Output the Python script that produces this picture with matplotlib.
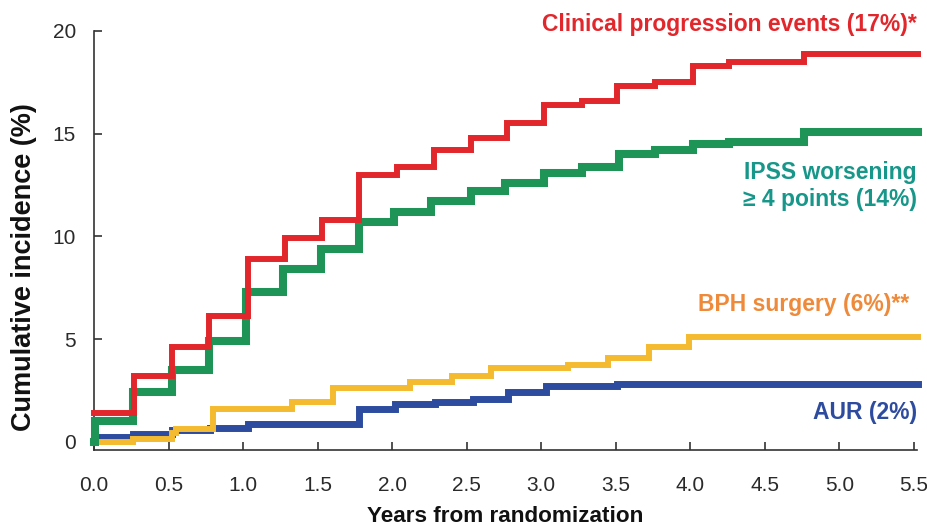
import matplotlib
matplotlib.use("Agg")
import matplotlib.pyplot as plt

# ---- data ----
clin_t = [0, 0.27, 0.52, 0.77, 1.03, 1.28, 1.53, 1.78, 2.03, 2.28, 2.53, 2.77,
          3.02, 3.27, 3.51, 3.76, 4.02, 4.26, 4.76, 5.53]
clin_v = [1.4, 3.2, 4.6, 6.1, 8.9, 9.9, 10.8, 13.0, 13.4, 14.2, 14.8, 15.5,
          16.4, 16.6, 17.3, 17.5, 18.3, 18.5, 18.9, 18.9]

ipss_t = [0, 0.01, 0.26, 0.52, 0.77, 1.02, 1.27, 1.52, 1.78, 2.01, 2.26, 2.53,
          2.76, 3.02, 3.27, 3.52, 3.76, 4.02, 4.26, 4.76, 5.53]
ipss_v = [0, 1.0, 2.4, 3.5, 4.9, 7.3, 8.4, 9.4, 10.7, 11.2, 11.7, 12.2,
          12.6, 13.1, 13.4, 14.0, 14.2, 14.5, 14.6, 15.1, 15.1]

bph_t = [0, 0.26, 0.52, 0.55, 0.8, 1.33, 1.6, 2.12, 2.4, 2.66, 3.18, 3.45,
         3.72, 3.99, 5.53]
bph_v = [0, 0.15, 0.45, 0.6, 1.6, 1.95, 2.6, 2.9, 3.2, 3.6, 3.75, 4.1,
         4.6, 5.1, 5.1]

aur_t = [0, 0.26, 0.52, 0.78, 1.03, 1.78, 2.02, 2.29, 2.54, 2.78, 3.03, 3.51, 5.53]
aur_v = [0.25, 0.4, 0.55, 0.65, 0.85, 1.6, 1.85, 1.95, 2.1, 2.4, 2.7, 2.8, 2.8]

x_ticks = [0.0, 0.5, 1.0, 1.5, 2.0, 2.5, 3.0, 3.5, 4.0, 4.5, 5.0, 5.5]
x_ticklabels = ["0.0", "0.5", "1.0", "1.5", "2.0", "2.5", "3.0", "3.5",
                "4.0", "4.5", "5.0", "5.5"]
y_ticks = [0, 5, 10, 15, 20]
y_ticklabels = ["0", "5", "10", "15", "20"]

# ---- styling ----
plt.rcParams['font.family'] = ['Liberation Sans', 'DejaVu Sans']

RED = "#E2272C"
GREEN = "#1E9457"
YELLOW = "#F4BA30"
BLUE = "#2D4C9F"
TEAL = "#17968A"
ORANGE = "#EE8A3A"
AXC = "#333333"

fig = plt.figure(figsize=(9.28, 5.26), dpi=100)
ax = fig.add_axes([94 / 928, 1 - 450 / 526, (917 - 94) / 928, (450 - 31) / 526])

ax.step(aur_t, aur_v, where='post', color=BLUE, lw=5.0, solid_joinstyle='miter', clip_on=False, zorder=3)
ax.step(bph_t, bph_v, where='post', color=YELLOW, lw=4.3, solid_joinstyle='miter', clip_on=False, zorder=4)
ax.step(ipss_t, ipss_v, where='post', color=GREEN, lw=5.8, solid_joinstyle='miter', clip_on=False, zorder=5)
ax.step(clin_t, clin_v, where='post', color=RED, lw=4.3, solid_joinstyle='miter', clip_on=False, zorder=6)

ax.set_xlim(0, 5.52)
ax.set_ylim(-0.4, 20)

ax.set_xticks(x_ticks)
ax.set_xticklabels(x_ticklabels)
ax.set_yticks(y_ticks)
ax.set_yticklabels(y_ticklabels)

for s in ['top', 'right']:
    ax.spines[s].set_visible(False)
for s in ['left', 'bottom']:
    ax.spines[s].set_color(AXC)
    ax.spines[s].set_linewidth(1.2)
ax.spines['left'].set_bounds(-0.4, 20)

ax.tick_params(axis='x', direction='in', length=6, width=1.2, color=AXC,
               labelsize=15, labelcolor="#2a2a2a", pad=19)
ax.tick_params(axis='y', direction='in', length=6, width=1.2, color=AXC,
               labelsize=15, labelcolor="#2a2a2a", pad=13)

ax.set_xlabel("Years from randomization", fontsize=16.2, fontweight='bold',
              color="#111111")
ax.xaxis.set_label_coords((505 - 94) / 823, -(517 - 450) / 419)
ax.xaxis.label.set_va('center')
ax.set_ylabel("Cumulative incidence (%)", fontsize=19.5, fontweight='bold',
              color="#111111")
ax.yaxis.set_label_coords(-(94 - 24) / 823, (450 - 267) / 419)
ax.yaxis.label.set_va('center')

def ftext(xpix, ypix, s, color, ha='right'):
    fig.text(xpix / 928, 1 - ypix / 526, s, color=color, fontsize=16.5,
             fontweight='bold', ha=ha, va='center')

ftext(917, 24, "Clinical progression events (17%)*", RED)
ftext(917, 172, "IPSS worsening", TEAL)
ftext(917, 200, "\u2265 4 points (14%)", TEAL)
ftext(909, 305, "BPH surgery (6%)**", ORANGE)
ftext(917, 413, "AUR (2%)", BLUE)

fig.savefig("out.png", dpi=100)
